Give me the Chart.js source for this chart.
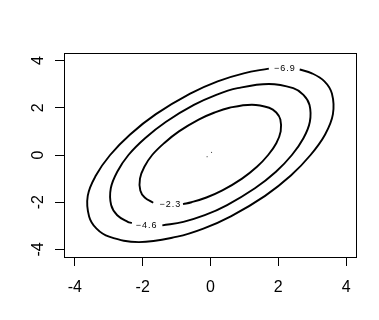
<!DOCTYPE html>
<html>
<head>
<meta charset="utf-8">
<script src="https://cdn.jsdelivr.net/npm/chart.js@4/dist/chart.umd.min.js"></script>
<style>
  html, body { margin: 0; padding: 0; background: #fff; }
  #wrap { width: 379px; height: 320px; }
</style>
</head>
<body>
<div id="wrap"><canvas id="c"></canvas></div>
<script>
/* global Chart */
(function () {
  'use strict';

  // contour levels and where their labels sit
  const levels = ['\u22122.3', '\u22124.6', '\u22126.9'];
  const labelX = [-1.18, -1.88, 2.19];
  const labelY = [-2.11, -3.00, 3.66];

  // each contour path runs from one side of its label gap round to the other
  const contour23 = [
    [-0.81, -2.08], [-0.56, -2.00], [-0.12, -1.80], [0.35, -1.50], [0.93, -1.00],
    [1.37, -0.50], [1.70, 0.00], [1.94, 0.50], [2.07, 1.00], [2.06, 1.50],
    [1.94, 1.80], [1.73, 2.00], [1.22, 2.13], [0.56, 2.00], [0.12, 1.80],
    [-0.35, 1.50], [-0.93, 1.00], [-1.37, 0.50], [-1.72, 0.00], [-1.95, -0.50],
    [-2.08, -1.00], [-2.07, -1.50], [-1.94, -1.80], [-1.69, -2.02]
  ];
  const contour46 = [
    [-1.42, -2.98], [-0.80, -2.83], [-0.17, -2.55], [0.49, -2.12], [1.31, -1.41],
    [1.93, -0.71], [2.40, 0.00], [2.74, 0.71], [2.93, 1.41], [2.92, 2.12],
    [2.74, 2.55], [2.44, 2.83], [1.72, 3.01], [0.80, 2.83], [0.17, 2.55],
    [-0.49, 2.12], [-1.31, 1.41], [-1.93, 0.71], [-2.42, 0.00], [-2.75, -0.71],
    [-2.94, -1.41], [-2.93, -2.12], [-2.75, -2.55], [-2.44, -2.83], [-2.32, -2.88]
  ];
  const contour69 = [
    [2.63, 3.62], [2.99, 3.46], [3.36, 3.12], [3.58, 2.60], [3.61, 1.73],
    [3.38, 0.87], [2.95, 0.00], [2.37, -0.87], [1.61, -1.73], [0.60, -2.60],
    [-0.21, -3.12], [-0.98, -3.46], [-2.11, -3.69], [-2.99, -3.46], [-3.36, -3.12],
    [-3.58, -2.60], [-3.62, -1.73], [-3.38, -0.87], [-2.96, 0.00], [-2.37, 0.87],
    [-1.61, 1.73], [-0.60, 2.60], [0.21, 3.12], [0.98, 3.46], [1.72, 3.66]
  ];
  // two faint specks near the centre
  const specksX = [0.03, -0.10];
  const specksY = [0.11, -0.07];

  const tickValues = [-4, -2, 0, 2, 4];
  const axisMin = -4.32;
  const axisMax = 4.32;

  const FONT = "'Liberation Sans', Arial, sans-serif";

  function toPoints(arr) {
    return arr.map(function (p) { return { x: p[0], y: p[1] }; });
  }

  function fixedTicks(scale) {
    scale.ticks = tickValues.map(function (v) { return { value: v }; });
  }

  const rPlot = {
    id: 'rPlot',
    afterDraw: function (chart) {
      const ctx = chart.ctx;
      const a = chart.chartArea;
      const xs = chart.scales.x;
      const ys = chart.scales.y;
      ctx.save();

      // box round the plot region
      ctx.strokeStyle = '#000';
      ctx.lineWidth = 1;
      ctx.strokeRect(Math.round(a.left) + 0.5, Math.round(a.top) + 0.5,
        Math.round(a.right - a.left) - 1, Math.round(a.bottom - a.top));

      // axis labels
      ctx.fillStyle = '#000';
      ctx.font = '16px ' + FONT;
      ctx.textAlign = 'center';
      ctx.textBaseline = 'alphabetic';
      tickValues.forEach(function (v) {
        ctx.fillText(String(v), xs.getPixelForValue(v), 292);
      });
      tickValues.forEach(function (v) {
        ctx.save();
        ctx.translate(43, ys.getPixelForValue(v));
        ctx.rotate(-Math.PI / 2);
        ctx.fillText(String(v), 0, 0);
        ctx.restore();
      });

      // contour labels
      ctx.font = '9px ' + FONT;
      ctx.letterSpacing = '1px';
      ctx.textBaseline = 'middle';
      levels.forEach(function (t, i) {
        ctx.fillText(t, xs.getPixelForValue(labelX[i]), ys.getPixelForValue(labelY[i]));
      });
      ctx.restore();
    }
  };

  const lineStyle = {
    borderColor: '#000',
    borderWidth: 1.9,
    pointRadius: 0,
    fill: false,
    tension: 0.4,
    showLine: true
  };

  new Chart(document.getElementById('c'), {
    type: 'scatter',
    data: {
      datasets: [
        Object.assign({ label: levels[0], data: toPoints(contour23) }, lineStyle),
        Object.assign({ label: levels[1], data: toPoints(contour46) }, lineStyle),
        Object.assign({ label: levels[2], data: toPoints(contour69) }, lineStyle),
        {
          label: 'centre',
          data: specksX.map(function (x, i) { return { x: x, y: specksY[i] }; }),
          pointRadius: 0.6,
          pointBorderWidth: 0,
          pointBackgroundColor: '#555',
          showLine: false
        }
      ]
    },
    options: {
      responsive: true,
      maintainAspectRatio: false,
      animation: false,
      events: [],
      layout: { padding: { top: 53, right: 22, left: 0, bottom: 0 } },
      scales: {
        x: {
          type: 'linear',
          min: axisMin,
          max: axisMax,
          afterBuildTicks: fixedTicks,
          afterFit: function (s) { s.height = 63; },
          border: { display: false },
          grid: { drawOnChartArea: false, drawTicks: true, tickLength: 9, color: '#000', lineWidth: 1 },
          ticks: { display: false }
        },
        y: {
          type: 'linear',
          min: axisMin,
          max: axisMax,
          afterBuildTicks: fixedTicks,
          afterFit: function (s) { s.width = 64; },
          border: { display: false },
          grid: { drawOnChartArea: false, drawTicks: true, tickLength: 9, color: '#000', lineWidth: 1 },
          ticks: { display: false }
        }
      },
      plugins: {
        legend: { display: false },
        tooltip: { enabled: false }
      }
    },
    plugins: [rPlot]
  });
})();
</script>
</body>
</html>
